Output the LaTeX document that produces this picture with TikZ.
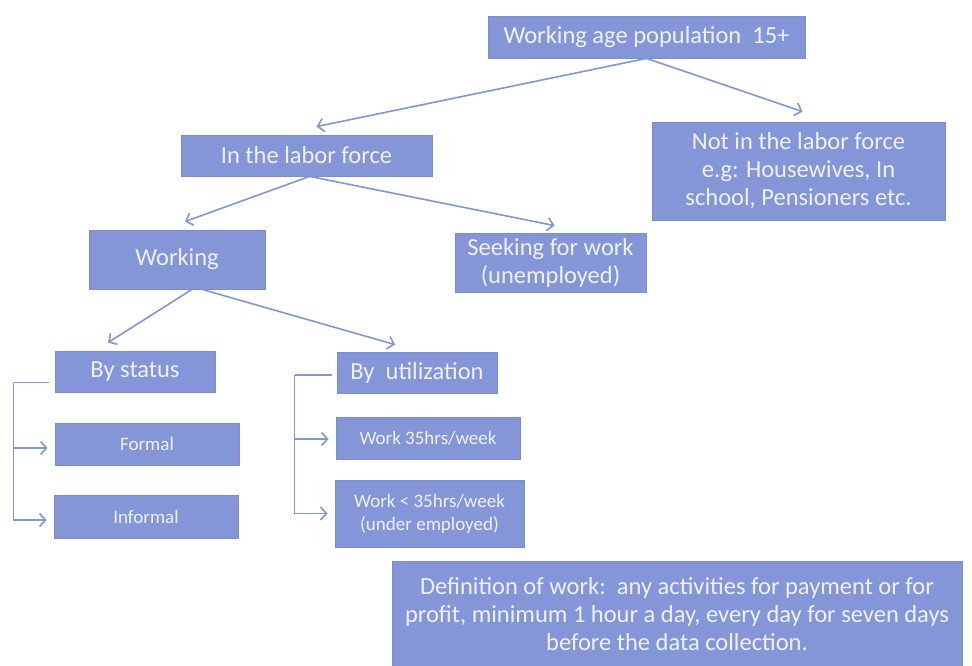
\documentclass[tikz,border=0pt]{standalone}
\usepackage{fontspec}
\setmainfont{Carlito}
\usetikzlibrary{arrows.meta}
\definecolor{boxfill}{HTML}{8496D8}
\definecolor{boxedge}{HTML}{7A8CCF}
\definecolor{boxtext}{HTML}{EEF1FB}
\definecolor{conncol}{HTML}{7F96D7}
\begin{document}
\begin{tikzpicture}[x=1pt,y=-1pt,
  box/.style={rectangle, fill=boxfill, draw=boxedge, line width=0.8pt, text=boxtext,
    inner sep=0pt, align=center, font=\fontsize{24.5}{28}\selectfont},
  smallbox/.style={box, font=\fontsize{19}{23}\selectfont},
  conn/.style={draw=conncol, line width=1.6pt, -{Straight Barb[length=6pt,width=13pt]}},
  plain/.style={draw=conncol, line width=1.6pt}]
\useasboundingbox (0,0) rectangle (972,666);
\fill[white] (0,0) rectangle (972,666);

\node[box, minimum width=317pt, minimum height=42pt] (top) at (646.5,37) {Working age population\ \ 15+};
\node[box, minimum width=251pt, minimum height=41pt] (labor) at (306.5,155.5) {In the labor force};
\node[box, minimum width=293pt, minimum height=98pt] (notin) at (798.5,171) {Not in the labor force\\e.g: Housewives, In\\school, Pensioners etc.};
\node[box, minimum width=176pt, minimum height=59pt] (working) at (177,259.5) {Working};
\node[box, minimum width=191pt, minimum height=59pt] (seeking) at (550.5,262.5) {Seeking for work\\(unemployed)};
\node[box, minimum width=160pt, minimum height=41pt] (status) at (135,371.5) {By status};
\node[smallbox, minimum width=184pt, minimum height=42pt] (formal) at (147,444) {Formal};
\node[smallbox, minimum width=184pt, minimum height=43pt] (informal) at (146,516.5) {Informal};
\node[box, minimum width=160pt, minimum height=41pt] (util) at (417,372.5) {By\ \ utilization};
\node[smallbox, minimum width=184pt, minimum height=42pt] (w35) at (428,438) {Work 35hrs/week};
\node[smallbox, minimum width=189pt, minimum height=67pt] (wlt) at (429.5,513.5) {Work < 35hrs/week\\(under employed)};
\node[box, minimum width=570pt, minimum height=106pt] (def) at (677,614) {Definition of work:\ \ any activities for payment or for\\profit, minimum 1 hour a day, every day for seven days\\before the data collection.};

% tree connectors
\draw[conn] (top.south) -- ([xshift=10pt,yshift=8pt]labor.north);
\draw[conn] (top.south) -- ([xshift=4pt,yshift=10pt]notin.north);
\draw[conn] ([xshift=3pt]labor.south) -- ([xshift=8pt,yshift=8pt]working.north);
\draw[conn] ([xshift=3pt]labor.south) -- ([xshift=4pt,yshift=7pt]seeking.north);
\draw[conn] ([xshift=15pt]working.south) -- ([xshift=-27pt,yshift=8pt]status.north);
\draw[conn] ([xshift=25pt]working.south) -- ([xshift=-22pt,yshift=7pt]util.north);

% by status bracket
\coordinate (sv) at ([xshift=-41pt,yshift=-11pt]status.west);
\coordinate (ftip) at ([xshift=-7pt,yshift=-4pt]formal.west);
\coordinate (itip) at ([xshift=-7pt,yshift=-3.5pt]informal.west);
\draw[plain] ([xshift=-6pt,yshift=-11pt]status.west) -- (sv);
\draw[conn] (sv) |- (itip);
\draw[conn] (sv |- ftip) -- (ftip);

% by utilization bracket
\coordinate (uv) at ([xshift=-42pt,yshift=-2.5pt]util.west);
\coordinate (wtip) at ([xshift=-7pt,yshift=-1pt]w35.west);
\coordinate (ltip) at ([xshift=-7pt]wlt.west);
\draw[plain] ([xshift=-5pt,yshift=-2.5pt]util.west) -- (uv);
\draw[conn] (uv) |- (ltip);
\draw[conn] (uv |- wtip) -- (wtip);
\end{tikzpicture}
\end{document}
